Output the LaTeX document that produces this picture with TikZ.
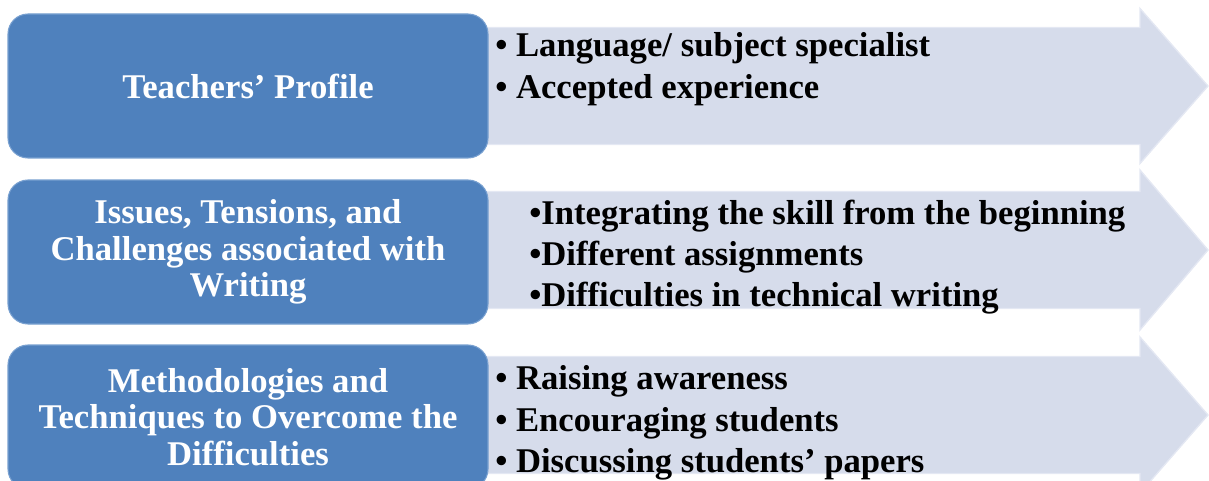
\documentclass[tikz,border=0pt]{standalone}
\usepackage{fontspec}
\setmainfont{Liberation Serif}
\definecolor{cBox}     {RGB}{79,129,189}
\definecolor{cBoxEdge} {RGB}{120,160,208}
\definecolor{cBand}    {RGB}{214,220,235}
\definecolor{cBandEdge}{RGB}{228,232,243}

\begin{document}
\begin{tikzpicture}[x=0.75pt,y=-0.75pt,
  % left heading boxes, all the same size
  box/.style={draw=cBoxEdge,line width=0.8pt,fill=cBox,rounded corners=15pt,
              minimum width=360pt,minimum height=108pt,
              align=center,text=white,inner sep=4pt,
              font=\fontsize{26}{27.5}\selectfont\bfseries},
  band/.style={draw=cBandEdge,line width=1pt,fill=cBand},
  list/.style={anchor=west,align=left,inner sep=0pt,
               font=\fontsize{26}{31}\selectfont\bfseries},
]
\useasboundingbox (0,0) rectangle (1209,481);
\clip (0,0) rectangle (1209,481);

% ------------------------------------------------------------ arrows behind
\foreach \cy/\hh in {86/77.5,250/80,415/78}{
  \draw[band] (470,\cy-58.5) -- (1140,\cy-58.5) -- (1140,\cy-\hh)
        -- (1208,\cy) -- (1140,\cy+\hh) -- (1140,\cy+58.5)
        -- (470,\cy+58.5) -- cycle;
}

% ------------------------------------------------------------ heading boxes
\node[box] (teach)  at (248,86)  {Teachers’ Profile};
\node[box] (issue)  at (248,252) {Issues, Tensions, and\\Challenges associated with\\Writing};
\node[box] (method) at (248,417) {Methodologies and\\Techniques to Overcome the\\Difficulties};

% ------------------------------------------------------------ bullet lists
\node[list] (teachL)  at (495,69)  {• Language/ subject specialist\\• Accepted experience};
\node[list] (issueL)  at (529,257) {•Integrating the skill from the beginning\\•Different assignments\\•Difficulties in technical writing};
\node[list] (methodL) at (495,423) {• Raising awareness\\• Encouraging students\\• Discussing students’ papers};

\end{tikzpicture}
\end{document}
